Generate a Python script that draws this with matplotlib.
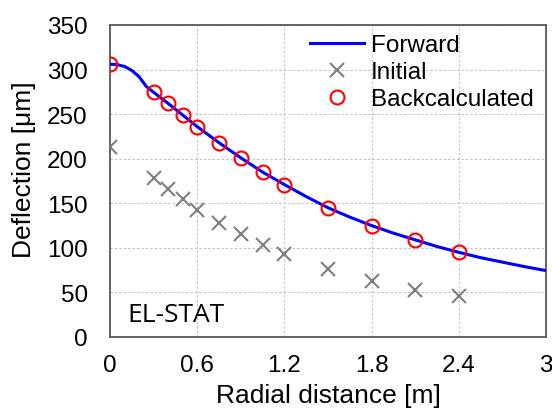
import matplotlib
matplotlib.use("Agg")
import matplotlib.pyplot as plt

# Measured points
x_pts = [0, 0.3, 0.4, 0.5, 0.6, 0.75, 0.9, 1.05, 1.2, 1.5, 1.8, 2.1, 2.4]
initial = [213, 178, 166, 155, 143, 128, 115, 103, 93, 76, 63, 53, 46]
backcalc = [306, 275, 262, 249, 236, 218, 201, 185, 171, 145, 125, 109, 95]

# Forward curve
x_fwd = [0, 0.05, 0.1, 0.15, 0.2, 0.25, 0.3, 0.4, 0.5, 0.6, 0.75, 0.9, 1.05, 1.2,
         1.35, 1.5, 1.65, 1.8, 1.95, 2.1, 2.25, 2.4, 2.55, 2.7, 2.85, 3.0]
forward = [306, 305.5, 303.5, 299, 292, 281, 274.5, 262, 249, 236, 218, 201, 185, 171,
           157.5, 145, 134.5, 125, 116.5, 109, 101.5, 95, 89, 84, 79, 74.5]

x_ticks = [0, 0.6, 1.2, 1.8, 2.4, 3]
x_tick_labels = ["0", "0.6", "1.2", "1.8", "2.4", "3"]
y_ticks = [0, 50, 100, 150, 200, 250, 300, 350]

plt.rcParams['font.family'] = ['Liberation Sans', 'DejaVu Sans']

fig = plt.figure(figsize=(5.52, 4.10), dpi=100)
ax = fig.add_axes([110/552, 1 - 338/410, 436/552, 312/410])

ax.plot(x_fwd, forward, color='#0000ff', lw=2.2, label='Forward', zorder=3)
ax.plot(x_pts, initial, ls='none', marker='x', ms=10, mew=1.5, color='#808080',
        label='Initial', zorder=4)
ax.plot(x_pts, backcalc, ls='none', marker='o', ms=10, mew=1.5, mfc='none',
        mec='#ff0000', label='Backcalculated', zorder=5)

ax.set_xlim(0, 3)
ax.set_ylim(0, 350)
ax.set_xticks(x_ticks)
ax.set_xticklabels(x_tick_labels)
ax.set_yticks(y_ticks)
ax.tick_params(axis='both', length=0, labelsize=17.5, colors='black')
ax.tick_params(axis='x', pad=12)
ax.tick_params(axis='y', pad=16)
ax.grid(True, ls=(0, (2, 2)), color='#c0c0c0', lw=0.8)
ax.set_axisbelow(True)
for s in ax.spines.values():
    s.set_color('#595959')
    s.set_linewidth(1.3)

ax.set_xlabel('Radial distance [m]', fontsize=19)
ax.set_ylabel('Deflection [μm]', fontsize=19)
ax.xaxis.set_label_coords(0.5, -0.148)
ax.yaxis.set_label_coords(-0.17, 0.54)

ax.text(0.04, 0.032, 'EL-STAT', transform=ax.transAxes, fontsize=19,
        family=['Open Sans', 'DejaVu Sans'], ha='left', va='bottom')

leg = ax.legend(loc='upper right', bbox_to_anchor=(1.0, 1.01), frameon=False,
                fontsize=17.5, labelspacing=0.21, handlelength=2.2, handletextpad=0.3,
                borderaxespad=0.1)

fig.savefig('out.png', dpi=100)
